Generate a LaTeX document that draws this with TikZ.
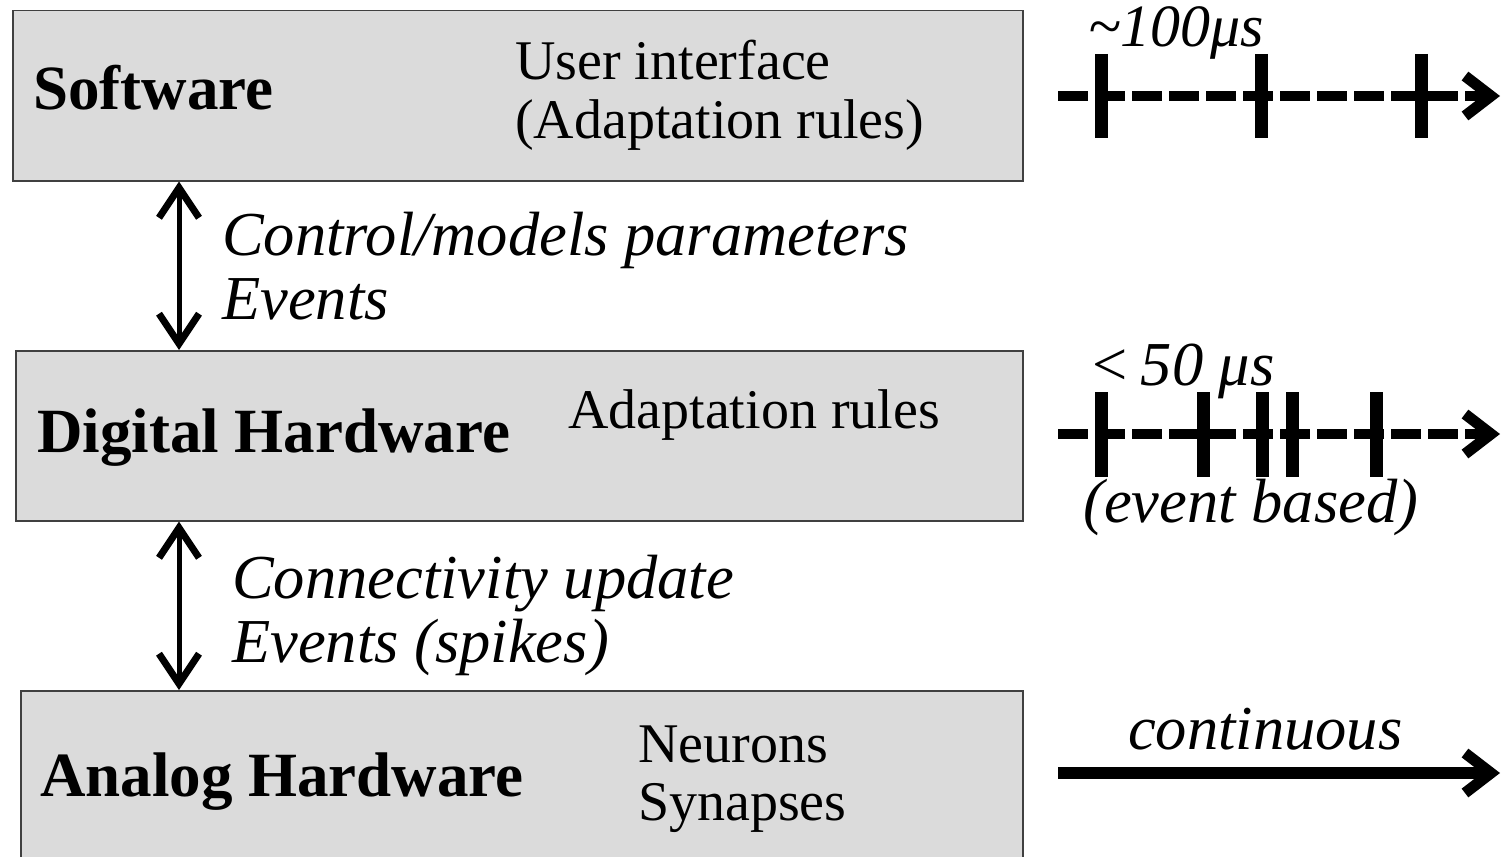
\documentclass[tikz,border=0pt]{standalone}
\usepackage{fontspec}
\setmainfont{Liberation Serif}
\usetikzlibrary{arrows.meta}
\tikzset{
  layer/.style={draw=black!75, line width=1.5pt, fill=black!14},
  title/.style={font=\fontsize{63}{70}\selectfont\bfseries, anchor=base west, inner sep=0pt},
  plain/.style={font=\fontsize{56}{64}\selectfont, anchor=base west, inner sep=0pt},
  slanted/.style={font=\fontsize{62.5}{70}\selectfont\itshape, anchor=base west, inner sep=0pt},
  barb/.tip={Straight Barb[length=30pt,width=40pt,line width=7pt]},
  link/.style={line width=5pt, barb-barb},
  timeline/.style={line width=10pt, dash pattern=on 30pt off 7pt, -{Straight Barb[length=26pt,width=40pt,line width=11pt]}},
  solidline/.style={line width=12pt, -{Straight Barb[length=26pt,width=40pt,line width=11pt]}},
  tick/.style={line width=13pt},
}
\begin{document}
\begin{tikzpicture}[x=1pt,y=-1pt]
\useasboundingbox (0,0) rectangle (1503,856);

% layers
\node[layer, minimum width=1010pt, minimum height=170pt, anchor=north west, inner sep=0pt] (sw) at (12,10) {};
\node[layer, minimum width=1007pt, minimum height=170pt, anchor=north west, inner sep=0pt] (dh) at (15,350) {};
\node[layer, minimum width=1002pt, minimum height=175pt, anchor=north west, inner sep=0pt] (ah) at (20,690) {};

% layer titles and contents
\node[title] (swt) at (33,110) {Software};
\node[plain] (swa) at (515,80) {User interface};
\node[plain] (swb) at (515,138) {(Adaptation rules)};

\node[title] (dht) at (37,452) {Digital Hardware};
\node[plain] (dha) at (568,428) {Adaptation rules};

\node[title] (aht) at (40,796) {Analog Hardware};
\node[plain] (aha) at (638,762) {Neurons};
\node[plain] (ahb) at (638,820) {Synapses};

% links between layers
\coordinate (lx) at (179,0);
\draw[link] (lx |- sw.south) -- (lx |- dh.north);
\node[slanted] (l1t) at (222,255) {Control/models parameters};
\node[slanted] (l1u) at (222,319) {Events};

\draw[link] (lx |- dh.south) -- (lx |- ah.north);
\node[slanted] (l2t) at (232,598) {Connectivity update};
\node[slanted] (l2u) at (232,662) {Events (spikes)};

% time scales
\node[slanted, font=\fontsize{60}{68}\selectfont\itshape, text height=38pt, text depth=12pt] (t1l) at (1088,47) {\textasciitilde 100μs};
\coordinate (t1s) at (1058,96);
\coordinate (t1e) at (1500,96);
\draw[timeline] (t1s) -- (t1e);
\foreach \x in {1101,1261,1421} \draw[tick] (\x,54) -- (\x,138);

\node[slanted] (t2l) at (1088,385) {<\,50 μs};
\coordinate (t2s) at (1058,434);
\coordinate (t2e) at (1500,434);
\draw[timeline] (t2s) -- (t2e);
\foreach \x in {1101,1203,1262,1292,1376} \draw[tick] (\x,392) -- (\x,477);
\node[slanted] (t2u) at (1083,522) {(event based)};

\node[slanted] (t3l) at (1128,749) {continuous};
\coordinate (t3s) at (1058,773);
\coordinate (t3e) at (1500,773);
\draw[solidline] (t3s) -- (t3e);
\end{tikzpicture}
\end{document}
